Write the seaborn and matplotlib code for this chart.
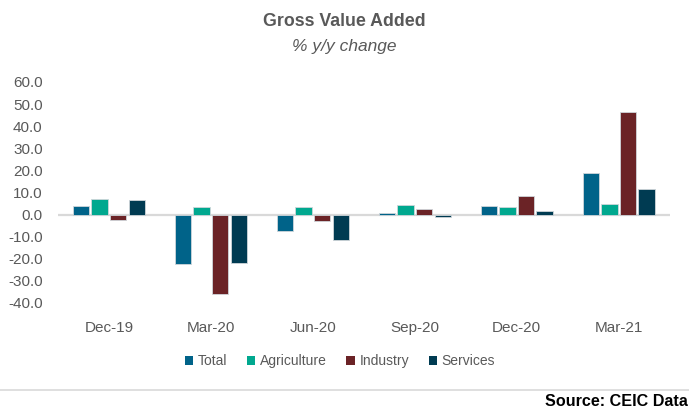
import numpy as np
import pandas as pd
import matplotlib
matplotlib.use("Agg")
import matplotlib.pyplot as plt
import seaborn as sns
from matplotlib.lines import Line2D
from matplotlib.patches import Patch

# Data
quarters = ["Dec-19", "Mar-20", "Jun-20", "Sep-20", "Dec-20", "Mar-21"]
total = [3.8, -22.6, -7.3, 0.9, 3.9, 18.6]
agriculture = [7.0, 3.3, 3.3, 4.5, 3.3, 4.7]
industry = [-2.3, -36.2, -2.9, 2.7, 8.3, 46.4]
services = [6.4, -21.8, -11.5, -1.1, 1.4, 11.4]

series = ["Total", "Agriculture", "Industry", "Services"]
colors = ["#006389", "#00a88f", "#6b2326", "#003b52"]

df = pd.DataFrame({"Total": total, "Agriculture": agriculture,
                   "Industry": industry, "Services": services},
                  index=quarters)
df = df.reset_index(names="quarter").melt(id_vars="quarter", var_name="series",
                                           value_name="value")

sns.set_style("white")
plt.rcParams["font.family"] = ["Liberation Sans", "DejaVu Sans"]

fig = plt.figure(figsize=(6.89, 4.12), dpi=100)
ax = fig.add_axes([0.084, 0.238, 0.888, 0.590])

sns.barplot(data=df, x="quarter", y="value", hue="series", hue_order=series,
            palette=colors, width=0.73, gap=0.12, edgecolor="#d0d6da",
            linewidth=0.6, saturation=1, ax=ax, legend=False)

ax.axhline(0, color="#d9d9d9", lw=1.6, zorder=0.5)
ax.set_ylim(-45, 65)
ax.set_yticks(np.arange(-40, 61, 10))
ax.set_yticklabels([f"{v:.1f}" for v in np.arange(-40, 61, 10)])
ax.set_xlabel("")
ax.set_ylabel("")
for s in ax.spines.values():
    s.set_visible(False)
ax.tick_params(axis="both", length=0, labelsize=11, colors="#595959")
ax.tick_params(axis="y", pad=11)
ax.tick_params(axis="x", pad=5)

fig.text(0.5, 0.948, "Gross Value Added", ha="center", va="center",
         fontsize=12.8, fontweight="bold", color="#595959")
fig.text(0.5, 0.886, "% y/y change", ha="center", va="center",
         fontsize=12.5, style="italic", color="#595959")

handles = [Patch(facecolor=c, edgecolor="none") for c in colors]
fig.legend(handles, series, loc="center", bbox_to_anchor=(340 / 689, 1 - 361 / 412),
           ncol=4, frameon=False, fontsize=10, handlelength=0.6, handleheight=0.6,
           handletextpad=0.35, columnspacing=1.4, labelcolor="#595959")

fig.add_artist(Line2D([0, 1], [1 - 390 / 412] * 2, color="#d9d9d9", lw=1.2,
                      transform=fig.transFigure))
fig.text(0.998, 1 - 402 / 412, "Source: CEIC Data", ha="right", va="center",
         fontsize=11.6, fontweight="bold", color="black")

fig.savefig("out.png", dpi=100)
